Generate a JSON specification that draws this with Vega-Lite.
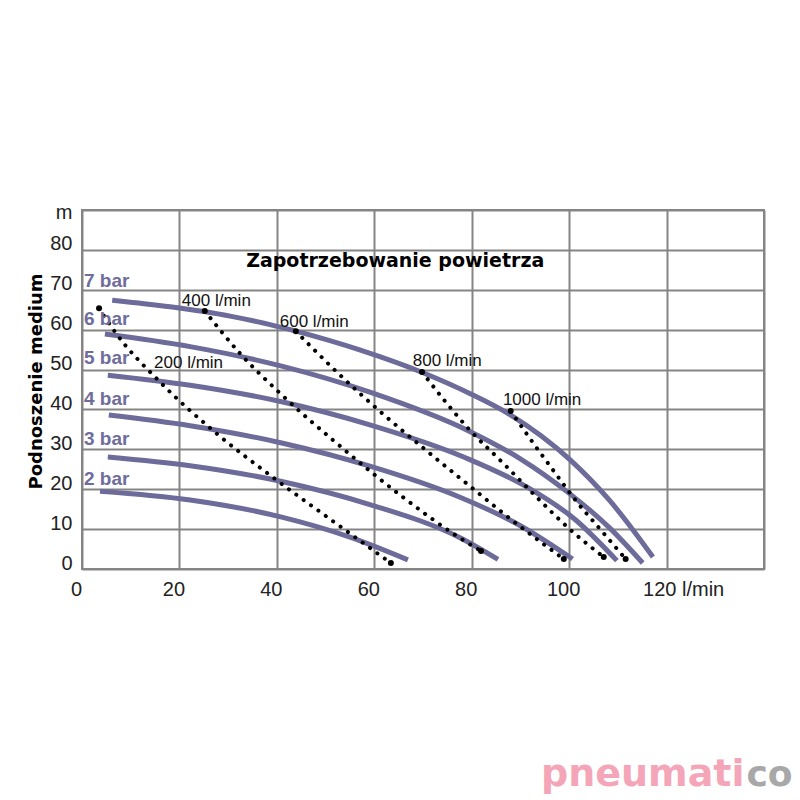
{
  "$schema": "https://vega.github.io/schema/vega-lite/v6.json",
  "autosize": {"type": "none"},
  "padding": {"left": 82, "top": 210, "right": 36, "bottom": 231},
  "width": 682,
  "height": 359,
  "background": "white",
  "config": {"view": {"stroke": "#858585", "strokeWidth": 2}, "font": "Liberation Sans"},
  "datasets": {
    "pressure": [
      {"series": "7 bar", "flow": 6.2, "head": 67.4}, {"series": "7 bar", "flow": 18.1, "head": 65.73}, {"series": "7 bar", "flow": 30.4, "head": 63.4}, {"series": "7 bar", "flow": 38.6, "head": 61.27}, {"series": "7 bar", "flow": 44.1, "head": 59.56}, {"series": "7 bar", "flow": 57.0, "head": 54.92}, {"series": "7 bar", "flow": 70.0, "head": 49.2}, {"series": "7 bar", "flow": 79.6, "head": 44.0}, {"series": "7 bar", "flow": 88.0, "head": 38.6}, {"series": "7 bar", "flow": 100.1, "head": 27.5}, {"series": "7 bar", "flow": 108.3, "head": 17.2}, {"series": "7 bar", "flow": 117.2, "head": 3.0},
      {"series": "6 bar", "flow": 4.7, "head": 58.9}, {"series": "6 bar", "flow": 22.2, "head": 55.75}, {"series": "6 bar", "flow": 41.0, "head": 50.86}, {"series": "6 bar", "flow": 59.1, "head": 44.34}, {"series": "6 bar", "flow": 79.6, "head": 34.5}, {"series": "6 bar", "flow": 89.9, "head": 27.7}, {"series": "6 bar", "flow": 100.1, "head": 18.9}, {"series": "6 bar", "flow": 108.3, "head": 10.3}, {"series": "6 bar", "flow": 115.1, "head": 1.5},
      {"series": "5 bar", "flow": 5.3, "head": 48.6}, {"series": "5 bar", "flow": 22.2, "head": 46.07}, {"series": "5 bar", "flow": 41.0, "head": 41.93}, {"series": "5 bar", "flow": 59.1, "head": 36.14}, {"series": "5 bar", "flow": 78.6, "head": 27.95}, {"series": "5 bar", "flow": 91.3, "head": 20.58}, {"series": "5 bar", "flow": 101.1, "head": 12.54}, {"series": "5 bar", "flow": 109.8, "head": 2.1},
      {"series": "4 bar", "flow": 5.5, "head": 38.6}, {"series": "4 bar", "flow": 22.2, "head": 35.93}, {"series": "4 bar", "flow": 41.0, "head": 31.6}, {"series": "4 bar", "flow": 59.1, "head": 25.8}, {"series": "4 bar", "flow": 77.6, "head": 18.0}, {"series": "4 bar", "flow": 89.9, "head": 10.9}, {"series": "4 bar", "flow": 100.7, "head": 2.5},
      {"series": "3 bar", "flow": 5.3, "head": 28.1}, {"series": "3 bar", "flow": 22.2, "head": 25.9}, {"series": "3 bar", "flow": 41.0, "head": 21.95}, {"series": "3 bar", "flow": 59.1, "head": 16.16}, {"series": "3 bar", "flow": 77.6, "head": 7.83}, {"series": "3 bar", "flow": 85.4, "head": 2.4},
      {"series": "2 bar", "flow": 3.7, "head": 19.5}, {"series": "2 bar", "flow": 22.2, "head": 17.3}, {"series": "2 bar", "flow": 41.0, "head": 13.0}, {"series": "2 bar", "flow": 55.0, "head": 8.0}, {"series": "2 bar", "flow": 66.9, "head": 2.3}
    ],
    "air": [
      {"series": "200 l/min", "flow": 3.5, "head": 65.4}, {"series": "200 l/min", "flow": 6.8, "head": 59.4}, {"series": "200 l/min", "flow": 16.0, "head": 46.9}, {"series": "200 l/min", "flow": 27.3, "head": 34.3}, {"series": "200 l/min", "flow": 39.6, "head": 22.6}, {"series": "200 l/min", "flow": 52.3, "head": 11.3}, {"series": "200 l/min", "flow": 63.4, "head": 1.5},
      {"series": "400 l/min", "flow": 25.2, "head": 64.7}, {"series": "400 l/min", "flow": 32.4, "head": 54.1}, {"series": "400 l/min", "flow": 40.8, "head": 43.9}, {"series": "400 l/min", "flow": 52.5, "head": 31.3}, {"series": "400 l/min", "flow": 65.9, "head": 18.0}, {"series": "400 l/min", "flow": 76.9, "head": 8.3}, {"series": "400 l/min", "flow": 81.9, "head": 4.5},
      {"series": "600 l/min", "flow": 43.9, "head": 59.6}, {"series": "600 l/min", "flow": 52.3, "head": 49.4}, {"series": "600 l/min", "flow": 60.9, "head": 39.8}, {"series": "600 l/min", "flow": 69.8, "head": 30.6}, {"series": "600 l/min", "flow": 78.8, "head": 21.6}, {"series": "600 l/min", "flow": 88.0, "head": 12.5}, {"series": "600 l/min", "flow": 98.9, "head": 2.5},
      {"series": "800 l/min", "flow": 69.8, "head": 49.4}, {"series": "800 l/min", "flow": 74.5, "head": 42.1}, {"series": "800 l/min", "flow": 79.4, "head": 35.1}, {"series": "800 l/min", "flow": 86.4, "head": 26.6}, {"series": "800 l/min", "flow": 93.1, "head": 18.3}, {"series": "800 l/min", "flow": 100.1, "head": 10.0}, {"series": "800 l/min", "flow": 107.1, "head": 3.0},
      {"series": "1000 l/min", "flow": 88.0, "head": 39.6}, {"series": "1000 l/min", "flow": 92.5, "head": 31.8}, {"series": "1000 l/min", "flow": 97.0, "head": 24.3}, {"series": "1000 l/min", "flow": 101.6, "head": 16.8}, {"series": "1000 l/min", "flow": 106.5, "head": 9.8}, {"series": "1000 l/min", "flow": 111.6, "head": 2.5}
    ],
    "barLabels": [
      {"text": "7 bar", "flow": 0.4, "head": 72.2}, {"text": "6 bar", "flow": 0.4, "head": 62.7}, {"text": "5 bar", "flow": 0.4, "head": 52.9}, {"text": "4 bar", "flow": 0.4, "head": 42.6}, {"text": "3 bar", "flow": 0.4, "head": 32.6}, {"text": "2 bar", "flow": 0.4, "head": 22.6}
    ],
    "flowLabels": [
      {"text": "200 l/min", "flow": 14.8, "head": 51.6}, {"text": "400 l/min", "flow": 20.5, "head": 67.2}, {"text": "600 l/min", "flow": 40.6, "head": 61.9}, {"text": "800 l/min", "flow": 67.9, "head": 52.1}, {"text": "1000 l/min", "flow": 86.4, "head": 42.4}
    ],
    "titleText": [{"text": "Zapotrzebowanie powietrza", "flow": 64.3, "head": 75.7}],
    "logoA": [{"text": "pneumati", "flow": 136.0, "head": -54.4}],
    "logoB": [{"text": "co", "flow": 136.4, "head": -54.4}]
  },
  "encoding": {
    "x": {
      "field": "flow", "type": "quantitative",
      "scale": {"domain": [0, 140], "nice": false, "zero": false},
      "axis": {
        "values": [0, 20, 40, 60, 80, 100, 120, 140],
        "title": null,
        "grid": true, "gridColor": "#858585", "gridWidth": 2,
        "domain": false, "ticks": false,
        "labelFont": "Liberation Sans", "labelFontSize": 20, "labelColor": "#222222",
        "labelPadding": 10, "labelBaseline": "top",
        "labelFlush": false, "labelOverlap": false, "labelBound": false,
        "labelExpr": "datum.value == 140 ? '' : (datum.value == 120 ? '120 l/min' : datum.label)",
        "labelAlign": {"condition": {"test": "datum.value == 120", "value": "left"}, "value": "center"},
        "labelOffset": {"condition": {"test": "datum.value == 120", "value": -24}, "value": -6}
      }
    },
    "y": {
      "field": "head", "type": "quantitative",
      "scale": {"domain": [0, 90], "nice": false, "zero": false},
      "axis": {
        "values": [0, 10, 20, 30, 40, 50, 60, 70, 80, 90],
        "title": "Podnoszenie medium",
        "titleFont": "DejaVu Sans", "titleFontWeight": "bold", "titleFontSize": 18, "titleColor": "#000000",
        "titleX": -46, "titleY": 171, "titleAngle": -90, "titleAlign": "center", "titleBaseline": "middle",
        "grid": true, "gridColor": "#858585", "gridWidth": 2,
        "domain": false, "ticks": false,
        "labelFont": "Liberation Sans", "labelFontSize": 20, "labelColor": "#222222",
        "labelPadding": 10, "labelBaseline": "alphabetic", "labelFlush": false, "labelOverlap": false,
        "labelExpr": "datum.value == 90 ? 'm' : datum.label",
        "labelOffset": {"condition": {"test": "datum.value == 90", "value": 8}, "value": 0}
      }
    }
  },
  "layer": [
    {
      "data": {"name": "pressure"},
      "mark": {"type": "line", "interpolate": "monotone", "strokeWidth": 5, "color": "#6c6b99", "strokeCap": "butt"},
      "encoding": {"detail": {"field": "series", "type": "nominal"}}
    },
    {
      "data": {"name": "air"},
      "mark": {"type": "line", "interpolate": "monotone", "strokeWidth": 4, "color": "#000000", "strokeDash": [0.1, 9], "strokeCap": "round"},
      "encoding": {"detail": {"field": "series", "type": "nominal"}}
    },
    {
      "data": {"name": "air"},
      "transform": [
        {"window": [{"op": "row_number", "as": "rn"}, {"op": "count", "as": "n"}], "groupby": ["series"], "sort": [{"field": "flow"}], "frame": [null, null]},
        {"filter": "datum.rn == 1 || datum.rn == datum.n"}
      ],
      "mark": {"type": "point", "filled": true, "size": 36, "color": "#000000", "opacity": 1},
      "encoding": {}
    },
    {
      "data": {"name": "barLabels"},
      "mark": {"type": "text", "align": "left", "baseline": "middle", "font": "Liberation Sans", "fontWeight": "bold", "fontSize": 19, "color": "#6e6d9b"},
      "encoding": {"text": {"field": "text"}}
    },
    {
      "data": {"name": "flowLabels"},
      "mark": {"type": "text", "align": "left", "baseline": "middle", "font": "Liberation Sans", "fontSize": 17, "color": "#111111"},
      "encoding": {"text": {"field": "text"}}
    },
    {
      "data": {"name": "titleText"},
      "mark": {"type": "text", "align": "center", "baseline": "alphabetic", "font": "DejaVu Sans", "fontWeight": "bold", "fontSize": 19, "color": "#000000"},
      "encoding": {"text": {"field": "text"}}
    },
    {
      "data": {"name": "logoA"},
      "mark": {"type": "text", "align": "right", "baseline": "alphabetic", "font": "DejaVu Sans", "fontWeight": "bold", "fontSize": 38, "color": "#f4a6b8"},
      "encoding": {"text": {"field": "text"}}
    },
    {
      "data": {"name": "logoB"},
      "mark": {"type": "text", "align": "left", "baseline": "alphabetic", "font": "DejaVu Sans", "fontWeight": "bold", "fontSize": 36, "color": "#a8a8a8"},
      "encoding": {"text": {"field": "text"}}
    }
  ]
}
